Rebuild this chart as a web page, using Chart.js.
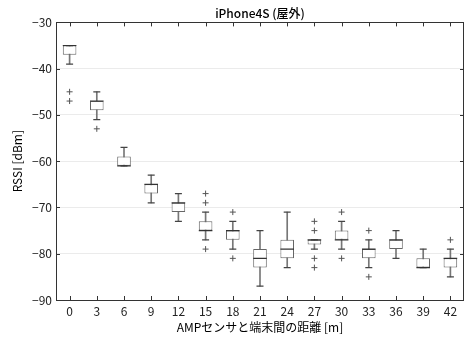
<!DOCTYPE html>
<html><head><meta charset="utf-8">
<script src="https://cdn.jsdelivr.net/npm/chart.js@4.4.1/dist/chart.umd.min.js"></script>
<style>html,body{margin:0;padding:0;background:#fff}#wrap{width:465px;height:338px;position:relative}</style>
</head><body><div id="wrap"><canvas id="c"></canvas></div>
<script>
const distances = ['0','3','6','9','12','15','18','21','24','27','30','33','36','39','42'];
const whiskerHigh = [-35,-45,-57,-63,-67,-71,-73,-75,-71,-77,-73,-77,-75,-79,-79];
const q3          = [-35,-47,-59,-65,-69,-73,-75,-79,-77,-77,-75,-79,-77,-81,-81];
const median      = [-35,-47,-61,-65,-69,-75,-75,-81,-79,-77,-77,-79,-77,-83,-81];
const q1          = [-37,-49,-61,-67,-71,-75,-77,-83,-81,-78,-77,-81,-79,-83,-83];
const whiskerLow  = [-39,-51,-61,-69,-73,-77,-79,-87,-83,-79,-79,-83,-81,-83,-85];
const outliers    = [[-45,-47],[-53],[],[],[],[-67,-69,-79],[-71,-81],[],[],[-73,-75,-81,-83],[-71,-81],[-75,-85],[],[],[-77]];
const yTicks = [-30,-40,-50,-60,-70,-80,-90];

const FONT = "'Noto Sans CJK JP', 'Noto Sans', sans-serif";

const outlierPoints = [];
distances.forEach((d,i)=>outliers[i].forEach(v=>outlierPoints.push({x:d,y:v})));

const framePlugin = {
  id:'frame',
  afterDatasetsDraw(chart){
    const {ctx, chartArea:a, scales:{x,y}} = chart;
    ctx.save();
    ctx.strokeStyle = '#333';
    ctx.lineWidth = 1;
    ctx.beginPath();
    x.ticks.forEach((t,i)=>{
      const px = Math.round(x.getPixelForTick(i))+0.5;
      ctx.moveTo(px,a.bottom); ctx.lineTo(px,a.bottom-4);
      ctx.moveTo(px,a.top); ctx.lineTo(px,a.top+4);
    });
    yTicks.forEach(v=>{
      const py = Math.round(y.getPixelForValue(v))+0.5;
      ctx.moveTo(a.left,py); ctx.lineTo(a.left+4,py);
      ctx.moveTo(a.right,py); ctx.lineTo(a.right-4,py);
    });
    ctx.stroke();
    ctx.strokeRect(Math.round(a.left)+0.5, Math.round(a.top)+0.5, Math.round(a.right-a.left)-1, Math.round(a.bottom-a.top));
    ctx.restore();
  }
};

new Chart(document.getElementById('c'), {
  type:'bar',
  data:{
    labels: distances,
    datasets:[
      {type:'bar', data: distances.map((d,i)=>[whiskerLow[i], whiskerHigh[i]]), backgroundColor:'#777', barThickness:1, grouped:false, order:6},
      {type:'bar', data: distances.map((d,i)=>[q1[i], q3[i]]), backgroundColor:'#fff', borderColor:'#666', borderWidth:1, borderSkipped:false, barPercentage:0.5, categoryPercentage:1, grouped:false, order:5},
      {type:'line', data: whiskerHigh, showLine:false, pointStyle:'line', pointRadius:3.5, pointHoverRadius:3.5, borderColor:'#444', pointBorderColor:'#444', pointBorderWidth:1.2, order:3},
      {type:'line', data: whiskerLow, showLine:false, pointStyle:'line', pointRadius:3.5, pointHoverRadius:3.5, borderColor:'#444', pointBorderColor:'#444', pointBorderWidth:1.2, order:3},
      {type:'line', data: median, showLine:false, pointStyle:'line', pointRadius:6.8, pointHoverRadius:6.8, borderColor:'#333', pointBorderColor:'#333', pointBorderWidth:1.1, order:1},
      {type:'line', data: outlierPoints, showLine:false, pointStyle:'cross', pointRadius:3, pointHoverRadius:3, borderColor:'#555', pointBorderColor:'#555', pointBorderWidth:1, order:1}
    ]
  },
  options:{
    responsive:true, maintainAspectRatio:false, animation:false,
    layout:{autoPadding:false, padding:{left:0,right:1,top:0,bottom:0}},
    plugins:{
      legend:{display:false}, tooltip:{enabled:false},
      title:{display:true, fullSize:false, text:'iPhone4S (屋外)', color:'#000', font:{family:FONT, size:12, weight:'500'}, padding:{top:6,bottom:2}}
    },
    scales:{
      x:{
        offset:true,
        grid:{display:false, drawTicks:false},
        border:{display:false},
        ticks:{color:'#222', font:{family:FONT, size:12}, padding:4, maxRotation:0, autoSkip:false},
        title:{display:true, text:'AMPセンサと端末間の距離 [m]', color:'#000', font:{family:FONT, size:12}, padding:{top:0,bottom:3}},
        afterFit(s){ s.height = 38; s.paddingLeft = 0; s.paddingRight = 0; }
      },
      y:{
        min:-90, max:-30,
        afterBuildTicks(s){ s.ticks = yTicks.map(v=>({value:v})); },
        grid:{color:'#ebebeb', drawTicks:false},
        border:{display:false},
        ticks:{color:'#222', font:{family:FONT, size:12}, padding:4, callback:v=>String(v).replace('-','\u2212')},
        title:{display:true, text:'RSSI [dBm]', color:'#000', font:{family:FONT, size:12}, padding:{top:10,bottom:0}},
        afterFit(s){ s.width = 56; s.paddingTop = 0; s.paddingBottom = 0; }
      }
    }
  },
  plugins:[framePlugin]
});
</script>
</body></html>
